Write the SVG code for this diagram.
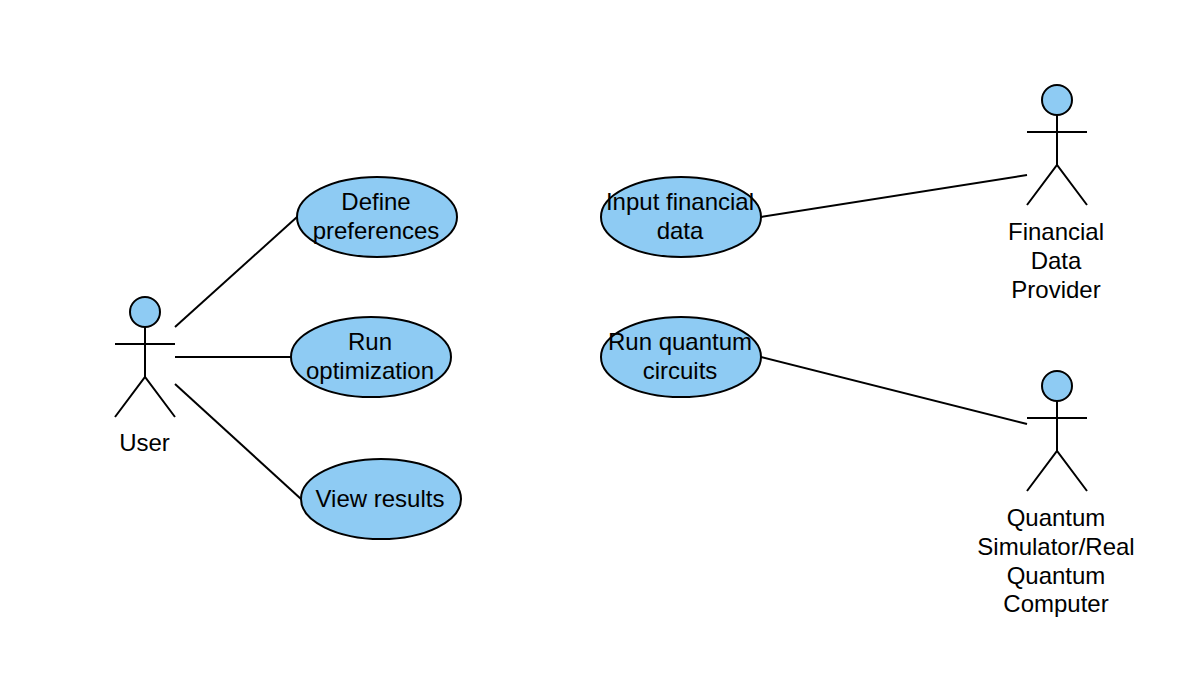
<svg xmlns="http://www.w3.org/2000/svg" width="1186" height="700" viewBox="0 0 1186 700">
<style>
text{font-family:"Liberation Sans",Arial,sans-serif;font-size:24px;fill:#000;text-anchor:middle}
.u{fill:#8ecbf3;stroke:#000;stroke-width:2}
.l{fill:none;stroke:#000;stroke-width:2}
</style>
<rect width="1186" height="700" fill="#fff"/>
<g id="connectors" class="l">
<path d="M175 327L297 217"/><path d="M175 357H291"/><path d="M175 384L301 499"/>
<path d="M761 217L1027 175"/><path d="M761 357L1027 424"/>
</g>
<g id="user"><circle class="u" cx="145" cy="312" r="15"/><path class="l" d="M145 327V377M115 344H175M115 417L145 377L175 417"/><text x="144.500" y="451">User</text></g>
<g id="define"><ellipse class="u" cx="377" cy="217" rx="80" ry="40"/><text x="376" y="210">Define</text><text x="376" y="239">preferences</text></g>
<g id="run"><ellipse class="u" cx="371" cy="357" rx="80" ry="40"/><text x="370" y="350">Run</text><text x="370" y="379">optimization</text></g>
<g id="view"><ellipse class="u" cx="381" cy="499" rx="80" ry="40"/><text x="380" y="507">View results</text></g>
<g id="input"><ellipse class="u" cx="681" cy="217" rx="80" ry="40"/><text x="680" y="210">Input financial</text><text x="680" y="239">data</text></g>
<g id="circuits"><ellipse class="u" cx="681" cy="357" rx="80" ry="40"/><text x="680" y="350">Run quantum</text><text x="680" y="379">circuits</text></g>
<g id="provider"><circle class="u" cx="1057" cy="100" r="15"/><path class="l" d="M1057 115V165M1027 132H1087M1027 205L1057 165L1087 205"/><text x="1056" y="240">Financial</text><text x="1056" y="269">Data</text><text x="1056" y="298">Provider</text></g>
<g id="quantum"><circle class="u" cx="1057" cy="386" r="15"/><path class="l" d="M1057 401V451M1027 418H1087M1027 491L1057 451L1087 491"/><text x="1056" y="526">Quantum</text><text x="1056" y="555">Simulator/Real</text><text x="1056" y="584">Quantum</text><text x="1056" y="612">Computer</text></g>
</svg>
